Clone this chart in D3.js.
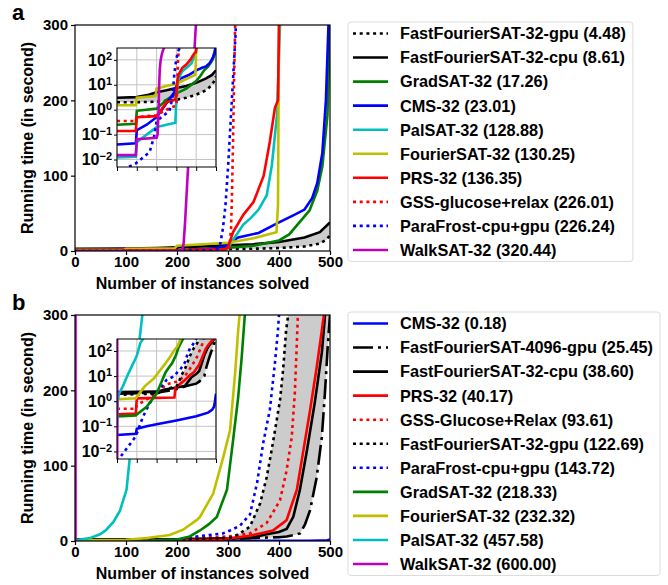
<!DOCTYPE html>
<html>
<head>
<meta charset="utf-8">
<script src="https://d3js.org/d3.v7.min.js"></script>
<style>
  html, body { margin:0; padding:0; background:#fff; }
  svg text { font-family: "Liberation Sans", Arial, sans-serif; font-weight: bold; fill: #000; }
</style>
</head>
<body>
<svg id="chart" width="668" height="585"></svg>
<script>
// ---- shared ticks ----
var xTicks = [0, 100, 200, 300, 400, 500];
var yTicks = [0, 100, 200, 300];
var insetTicks = [0.01, 0.1, 1, 10, 100];

// ---- panel a: instances solved (n) vs running time (t, seconds) ----
var aMethods = ["FastFourierSAT-32-gpu", "FastFourierSAT-32-cpu", "GradSAT-32", "CMS-32", "PalSAT-32",
                "FourierSAT-32", "PRS-32", "GSS-glucose+relax", "ParaFrost-cpu+gpu", "WalkSAT-32"];
var aScores = ["4.48", "8.61", "17.26", "23.01", "128.88", "130.25", "136.35", "226.01", "226.24", "320.44"];

var aGpuN = [0, 100, 200, 250, 300, 350, 400, 450, 480, 495, 500];
var aGpuT = [2.0, 2.0, 2.1, 2.3, 2.5, 3, 4, 6, 10, 16, 22];
var aCpuN = [0, 100, 160, 200, 250, 300, 350, 400, 450, 480, 500];
var aCpuT = [3.0, 3.2, 4.0, 5.0, 6.0, 7.5, 9, 12, 18, 25, 38];
var aGradN = [0, 95, 100, 200, 250, 300, 350, 400, 420, 440, 460, 475, 485, 495, 500];
var aGradT = [0.25, 0.27, 0.9, 1.1, 2.5, 4.5, 7, 14, 22, 38, 54, 80, 112, 180, 300];
var aCmsN = [0, 95, 100, 150, 200, 250, 290, 300, 320, 360, 400, 430, 450, 465, 475, 485, 492, 497, 500];
var aCmsT = [0.04, 0.045, 0.15, 0.25, 0.5, 1.8, 5, 9, 18, 24, 38, 48, 55, 70, 90, 130, 200, 300, 400];
var aPalN = [0, 95, 100, 150, 200, 250, 295, 300, 310, 320, 330, 345, 360, 376, 386, 396, 402, 404];
var aPalT = [0.012, 0.013, 0.05, 0.1, 0.2, 0.25, 0.3, 3, 15, 25, 35, 44, 55, 74, 114, 180, 300, 400];
var aFourN = [0, 95, 100, 195, 200, 250, 300, 350, 395, 398, 400, 401];
var aFourT = [1.5, 1.5, 3, 3.5, 7, 9, 11, 17, 25, 60, 300, 400];
var aPrsN = [0, 95, 100, 200, 250, 295, 300, 305, 310, 330, 350, 370, 382, 392, 398, 400, 401];
var aPrsT = [0.14, 0.14, 0.5, 0.55, 2, 2.5, 5, 15, 25, 48, 65, 100, 145, 190, 200, 300, 400];
var aGssN = [0, 95, 100, 200, 250, 300, 303, 306, 308, 310, 312, 314, 315];
var aGssT = [0.35, 0.35, 0.5, 0.6, 1, 1.5, 5, 30, 80, 150, 230, 300, 400];
var aParaN = [0, 95, 165, 190, 200, 265, 280, 285, 290, 295, 300, 305, 310, 315, 317];
var aParaT = [0.003, 0.007, 0.02, 0.1, 0.35, 0.9, 3, 10, 30, 60, 110, 170, 230, 290, 400];
var aWalkN = [0, 95, 100, 200, 205, 210, 213, 216, 220, 225, 230, 237, 239];
var aWalkT = [0.015, 0.015, 0.065, 0.075, 0.1, 1, 10, 40, 90, 150, 215, 300, 400];

// ---- panel b ----
var bMethods = ["CMS-32", "FastFourierSAT-4096-gpu", "FastFourierSAT-32-cpu", "PRS-32", "GSS-Glucose+Relax",
                "FastFourierSAT-32-gpu", "ParaFrost-cpu+gpu", "GradSAT-32", "FourierSAT-32", "PalSAT-32", "WalkSAT-32"];
var bScores = ["0.18", "25.45", "38.60", "40.17", "93.61", "122.69", "143.72", "218.33", "232.32", "457.58", "600.00"];

var bCmsN = [0, 95, 100, 150, 200, 300, 400, 460, 480, 490, 495, 500];
var bCmsT = [0.045, 0.05, 0.08, 0.1, 0.12, 0.17, 0.25, 0.35, 0.45, 0.6, 1, 2];
var b4096N = [0, 200, 300, 350, 400, 415, 430, 441, 451, 461, 474, 484, 490, 496, 500];
var b4096T = [2, 2.2, 3, 4, 5, 6, 8, 10, 22, 41, 85, 138, 196, 263, 300];
var bCpuN = [0, 200, 250, 300, 343, 376, 400, 415, 428, 441, 455, 470, 484, 490, 492];
var bCpuT = [2.3, 2.4, 3, 3.5, 4, 9, 12, 16, 32, 68, 121, 183, 250, 297, 400];
var bPrsN = [0, 95, 100, 290, 295, 320, 343, 369, 388, 408, 415, 435, 447, 461, 474, 484, 488, 490];
var bPrsT = [0.3, 0.32, 1.3, 1.4, 3.4, 5, 7, 11, 14, 24, 28, 68, 117, 174, 231, 280, 300, 400];
var bGssN = [0, 95, 100, 200, 250, 300, 343, 376, 402, 415, 425, 431, 435, 437, 439];
var bGssT = [0.5, 0.5, 0.7, 2, 4.7, 6, 10, 24, 54, 94, 138, 196, 263, 300, 400];
var bGpuN = [0, 200, 250, 300, 310, 323, 343, 363, 376, 388, 402, 408, 414, 418, 420];
var bGpuT = [1.8, 2, 3, 4, 5, 10, 19, 50, 85, 130, 187, 227, 280, 300, 400];
var bParaN = [0, 95, 130, 165, 200, 250, 290, 304, 323, 343, 357, 369, 382, 392, 398, 400, 402];
var bParaT = [0.004, 0.04, 0.23, 0.83, 2.1, 7, 10, 14, 20, 35, 77, 130, 174, 236, 280, 300, 400];
var bGradN = [0, 95, 100, 150, 200, 225, 245, 262, 278, 298, 310, 320, 327, 333, 335];
var bGradT = [0.25, 0.27, 0.3, 0.6, 2, 6, 14, 22, 32, 68, 134, 191, 245, 300, 400];
var bFourN = [0, 95, 100, 141, 186, 212, 239, 245, 271, 291, 304, 314, 320, 324];
var bFourT = [1.2, 1.3, 1.5, 4, 8, 15, 28, 32, 63, 112, 147, 223, 280, 310];
var bPalN = [0, 3, 10, 30, 49, 60, 75, 88, 101, 111, 117, 127, 132, 134];
var bPalT = [0.05, 1, 2, 4, 9, 14, 25, 40, 68, 134, 200, 270, 300, 400];
var bWalkN = [1, 1];
var bWalkT = [0.001, 1000];

// line style per method (matplotlib-ish colours)
var styles = {
  "fastfouriersat-32-gpu":   { color: "#000000", dash: "dot" },
  "fastfouriersat-32-cpu":   { color: "#000000", dash: "solid" },
  "fastfouriersat-4096-gpu": { color: "#000000", dash: "dashdot" },
  "gradsat-32":              { color: "#008000", dash: "solid" },
  "cms-32":                  { color: "#0000ff", dash: "solid" },
  "palsat-32":               { color: "#00bfbf", dash: "solid" },
  "fouriersat-32":           { color: "#bfbf00", dash: "solid" },
  "prs-32":                  { color: "#ff0000", dash: "solid" },
  "gss-glucose+relax":       { color: "#ff0000", dash: "dot" },
  "parafrost-cpu+gpu":       { color: "#0000ff", dash: "dot" },
  "walksat-32":              { color: "#bf00bf", dash: "solid" }
};
var dashes = { solid: null, dot: "3,3.7", dashdot: "20,5,3,5" };

function zipPts(n, t) { return n.map(function(v, i) { return [v, t[i]]; }); }

var svg = d3.select("#chart");
var defs = svg.append("defs");
var LEFT = 75, RIGHT = 330, IN_L = 117, IN_R = 216;

function drawPanel(p) {
  var g = svg.append("g");
  var x = d3.scaleLinear().domain([0, 500]).range([LEFT, RIGHT]);
  var y = d3.scaleLinear().domain([0, 300]).range([p.bottom, p.top]);

  var series = p.methods.map(function(m, i) {
    return { method: m, label: m + " (" + p.scores[i] + ")", pts: zipPts(p.n[i], p.t[i]), st: styles[m.toLowerCase()] };
  });
  var fillPts = series[p.fill[0]].pts.concat(series[p.fill[1]].pts.slice().reverse());

  defs.append("clipPath").attr("id", p.id + "m").append("rect")
    .attr("x", LEFT).attr("y", p.top).attr("width", RIGHT - LEFT).attr("height", p.bottom - p.top);

  var plot = g.append("g").attr("clip-path", "url(#" + p.id + "m)");
  var line = d3.line().x(function(d) { return x(d[0]); }).y(function(d) { return y(d[1]); });
  plot.append("path").attr("d", line(fillPts)).attr("fill", "#cccccc").attr("stroke", "none");
  series.forEach(function(s) {
    plot.append("path").attr("d", line(s.pts)).attr("fill", "none")
      .attr("stroke", s.st.color).attr("stroke-width", 2.6)
      .attr("stroke-dasharray", dashes[s.st.dash]);
  });

  // axes
  var ax = g.append("g").attr("transform", "translate(0," + p.bottom + ")")
    .call(d3.axisBottom(x).tickValues(xTicks).tickSize(4).tickPadding(1));
  var ay = g.append("g").attr("transform", "translate(" + LEFT + ",0)")
    .call(d3.axisLeft(y).tickValues(yTicks).tickSize(4).tickPadding(3));
  [ax, ay].forEach(function(a) {
    a.select(".domain").remove();
    a.selectAll("text").attr("font-size", "15px").attr("font-family", null);
    a.selectAll("line").attr("stroke-width", 1.2);
  });
  g.append("rect").attr("x", LEFT).attr("y", p.top).attr("width", RIGHT - LEFT).attr("height", p.bottom - p.top)
    .attr("fill", "none").attr("stroke", "#000").attr("stroke-width", 1.2);

  g.append("text").attr("x", 12).attr("y", p.top - 5).attr("font-size", "22px").text(p.letter);
  g.append("text").attr("transform", "translate(33," + ((p.top + p.bottom) / 2) + ") rotate(-90)")
    .attr("text-anchor", "middle").attr("font-size", "16px").text("Running time (in second)");
  g.append("text").attr("x", (LEFT + RIGHT) / 2).attr("y", p.bottom + 38)
    .attr("text-anchor", "middle").attr("font-size", "16px").text("Number of instances solved");

  // ---- inset (log y) ----
  var ix = d3.scaleLinear().domain([0, 500]).range([IN_L, IN_R]);
  var iy = d3.scaleLog().domain([0.005, 300]).range([p.inBottom, p.inTop]);
  var ig = g.append("g");
  ig.append("rect").attr("x", IN_L).attr("y", p.inTop).attr("width", IN_R - IN_L).attr("height", p.inBottom - p.inTop)
    .attr("fill", "#fff");
  defs.append("clipPath").attr("id", p.id + "i").append("rect")
    .attr("x", IN_L).attr("y", p.inTop).attr("width", IN_R - IN_L).attr("height", p.inBottom - p.inTop);
  ig.selectAll(".gx").data(xTicks).join("line")
    .attr("x1", function(d) { return ix(d); }).attr("x2", function(d) { return ix(d); })
    .attr("y1", p.inTop).attr("y2", p.inBottom).attr("stroke", "#c4c4c4").attr("stroke-width", 1);
  ig.selectAll(".gy").data(insetTicks).join("line")
    .attr("y1", function(d) { return iy(d); }).attr("y2", function(d) { return iy(d); })
    .attr("x1", IN_L).attr("x2", IN_R).attr("stroke", "#c4c4c4").attr("stroke-width", 1);

  var iplot = ig.append("g").attr("clip-path", "url(#" + p.id + "i)");
  var iline = d3.line().x(function(d) { return ix(d[0]); }).y(function(d) { return iy(d[1]); });
  iplot.append("path").attr("d", iline(fillPts)).attr("fill", "#cccccc").attr("stroke", "none");
  series.forEach(function(s) {
    iplot.append("path").attr("d", iline(s.pts)).attr("fill", "none")
      .attr("stroke", s.st.color).attr("stroke-width", 2.6)
      .attr("stroke-dasharray", dashes[s.st.dash]);
  });

  var iax = ig.append("g").attr("transform", "translate(0," + p.inBottom + ")")
    .call(d3.axisBottom(ix).tickValues(xTicks).tickSize(4).tickFormat(""));
  var iay = ig.append("g").attr("transform", "translate(" + IN_L + ",0)")
    .call(d3.axisLeft(iy).tickValues(insetTicks).tickSize(3).tickPadding(2));
  [iax, iay].forEach(function(a) {
    a.select(".domain").remove();
    a.selectAll("line").attr("stroke-width", 1);
  });
  iay.selectAll(".tick text").attr("font-size", "16px").attr("font-family", null).each(function(d) {
    var e = Math.round(Math.log10(d));
    var t = d3.select(this).text(null);
    t.append("tspan").text("10");
    t.append("tspan").attr("dy", "-0.5em").attr("font-size", "11px").text(e < 0 ? "\u2212" + (-e) : String(e));
  });
  ig.append("rect").attr("x", IN_L).attr("y", p.inTop).attr("width", IN_R - IN_L).attr("height", p.inBottom - p.inTop)
    .attr("fill", "none").attr("stroke", "#000").attr("stroke-width", 1);

  // ---- legend ----
  var lg = svg.append("g");
  var box = lg.append("rect").attr("x", 348).attr("y", p.legTop).attr("rx", 3)
    .attr("fill", "#fff").attr("stroke", "#dcdcdc").attr("stroke-width", 1);
  var maxW = 0;
  series.forEach(function(s, i) {
    var cy = p.legTop + 11.5 + i * 24.05;
    lg.append("line").attr("x1", 353).attr("x2", 388).attr("y1", cy).attr("y2", cy)
      .attr("stroke", s.st.color).attr("stroke-width", 2.6).attr("stroke-dasharray", dashes[s.st.dash]);
    var t = lg.append("text").attr("x", 400).attr("y", cy).attr("dy", "0.36em").attr("font-size", "16.3px").text(s.label);
    maxW = Math.max(maxW, t.node().getComputedTextLength());
  });
  box.attr("width", 400 + maxW + 7 - 348).attr("height", 23 + (series.length - 1) * 24.05);
}

drawPanel({
  id: "a", letter: "a", top: 25, bottom: 251, inTop: 48, inBottom: 167, legTop: 22,
  methods: aMethods, scores: aScores,
  n: [aGpuN, aCpuN, aGradN, aCmsN, aPalN, aFourN, aPrsN, aGssN, aParaN, aWalkN],
  t: [aGpuT, aCpuT, aGradT, aCmsT, aPalT, aFourT, aPrsT, aGssT, aParaT, aWalkT],
  fill: [0, 1]
});
drawPanel({
  id: "b", letter: "b", top: 315, bottom: 541, inTop: 339, inBottom: 459, legTop: 312,
  methods: bMethods, scores: bScores,
  n: [bCmsN, b4096N, bCpuN, bPrsN, bGssN, bGpuN, bParaN, bGradN, bFourN, bPalN, bWalkN],
  t: [bCmsT, b4096T, bCpuT, bPrsT, bGssT, bGpuT, bParaT, bGradT, bFourT, bPalT, bWalkT],
  fill: [5, 1]
});
</script>
</body>
</html>
